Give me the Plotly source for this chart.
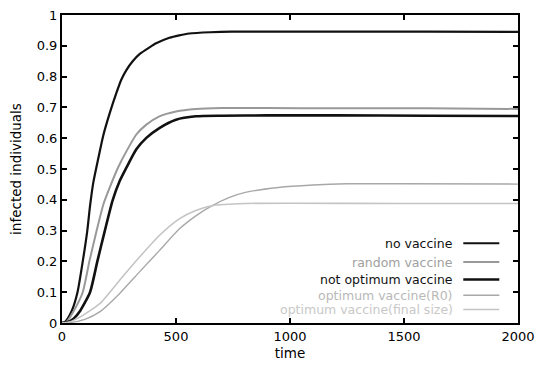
import plotly.graph_objects as go

# ---- data ----
t_none = [0, 15, 43, 68, 91, 111, 123, 137, 159, 181, 210, 239, 260, 283, 310, 340, 384, 413, 471, 514, 558, 650, 745, 900, 1200, 1600, 2000]
y_none = [0, 0.005, 0.04, 0.10, 0.20, 0.30, 0.38, 0.455, 0.534, 0.609, 0.683, 0.748, 0.79, 0.822, 0.85, 0.873, 0.895, 0.908, 0.926, 0.934, 0.94, 0.944, 0.946, 0.946, 0.946, 0.946, 0.945]

t_random = [0, 20, 52, 91, 120, 152, 181, 210, 246, 283, 326, 370, 427, 500, 587, 700, 900, 1200, 1600, 2000]
y_random = [0, 0.004, 0.04, 0.10, 0.20, 0.30, 0.384, 0.441, 0.505, 0.558, 0.612, 0.644, 0.671, 0.687, 0.695, 0.698, 0.698, 0.697, 0.697, 0.695]

t_notopt = [0, 25, 52, 80, 123, 155, 188, 222, 253, 283, 326, 370, 427, 500, 587, 700, 900, 1200, 1600, 2000]
y_notopt = [0, 0.003, 0.015, 0.04, 0.10, 0.20, 0.30, 0.398, 0.461, 0.505, 0.564, 0.601, 0.633, 0.66, 0.671, 0.673, 0.674, 0.674, 0.673, 0.672]

t_optR0 = [0, 40, 100, 167, 253, 340, 427, 514, 587, 659, 732, 804, 949, 1100, 1250, 1500, 2000]
y_optR0 = [0, 0.002, 0.012, 0.037, 0.096, 0.166, 0.235, 0.305, 0.348, 0.381, 0.407, 0.424, 0.44, 0.448, 0.452, 0.452, 0.451]

t_optFS = [0, 30, 80, 167, 253, 340, 427, 514, 587, 659, 804, 1000, 1500, 2000]
y_optFS = [0, 0.003, 0.02, 0.064, 0.139, 0.214, 0.284, 0.338, 0.365, 0.381, 0.388, 0.389, 0.388, 0.388]

names = ["no vaccine", "random vaccine", "not optimum vaccine", "optimum vaccine(R0)", "optimum vaccine(final size)"]
x_ticks = [0, 500, 1000, 1500, 2000]
y_ticks = [0, 0.1, 0.2, 0.3, 0.4, 0.5, 0.6, 0.7, 0.8, 0.9, 1]
y_tick_text = ["0", "0.1", "0.2", "0.3", "0.4", "0.5", "0.6", "0.7", "0.8", "0.9", "1"]

series = [
    (t_none, y_none, "#111111", 2.2),
    (t_random, y_random, "#999999", 2.0),
    (t_notopt, y_notopt, "#111111", 2.6),
    (t_optR0, y_optR0, "#a8a8a8", 1.4),
    (t_optFS, y_optFS, "#c4c4c4", 1.6),
]
text_colors = ["#111111", "#a0a0a0", "#111111", "#b8b8b8", "#c8c8c8"]

FONT = "DejaVu Sans, Verdana, sans-serif"

fig = go.Figure()
for (tx, ty, col, w), nm in zip(series, names):
    fig.add_trace(go.Scatter(x=tx, y=ty, mode="lines", name=nm,
                             line=dict(color=col, width=w, shape="spline", smoothing=0.6),
                             showlegend=False))

# gnuplot-style key: right-aligned text followed by a line sample
key_rows = [0.259, 0.198, 0.141, 0.090, 0.044]
for (tx, ty, col, w), nm, tc, ky in zip(series, names, text_colors, key_rows):
    fig.add_annotation(xref="paper", yref="paper", x=0.861, y=ky, text=nm,
                       showarrow=False, xanchor="right", yanchor="middle",
                       font=dict(family=FONT, size=12.5, color=tc))
    fig.add_shape(type="line", xref="paper", yref="paper", x0=0.880, x1=0.959,
                  y0=ky, y1=ky, line=dict(color=col, width=w))

axis_common = dict(showline=True, linecolor="black", linewidth=2, mirror="ticks",
                   ticks="inside", ticklen=5, tickwidth=2, tickcolor="black",
                   showgrid=False, zeroline=False, ticklabeloverflow="allow",
                   tickfont=dict(family=FONT, size=13, color="black"))

fig.update_layout(
    width=543, height=370,
    margin=dict(l=62, r=16, t=8, b=47),
    paper_bgcolor="white", plot_bgcolor="white",
    xaxis=dict(range=[0, 2000], tickvals=x_ticks, ticktext=[str(v) for v in x_ticks],
               title=dict(text="time", font=dict(family=FONT, size=13.5, color="black"), standoff=6),
               **axis_common),
    yaxis=dict(range=[0, 1], tickvals=y_ticks, ticktext=y_tick_text,
               title=dict(text="infected individuals", font=dict(family=FONT, size=13.5, color="black"), standoff=12),
               **axis_common),
)

fig.write_html("out.html", config={"displayModeBar": False},
               post_script="document.body.style.margin='0';document.body.style.padding='0';document.body.style.overflow='hidden';")
